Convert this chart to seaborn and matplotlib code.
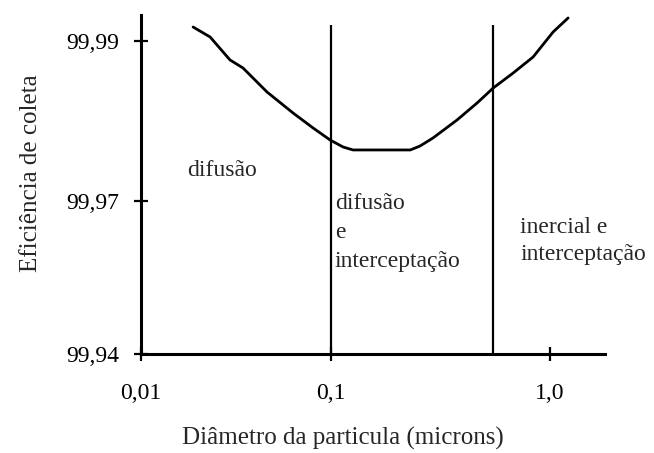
import numpy as np
import pandas as pd
import matplotlib
matplotlib.use('Agg')
import matplotlib.pyplot as plt
import seaborn as sns

# Curva de eficiência
diametro = [0.0188, 0.0231, 0.0294, 0.0344, 0.0460, 0.0631, 0.0804, 0.0988, 0.1135, 0.126,
            0.230, 0.255, 0.292, 0.376, 0.464, 0.550, 0.678, 0.836, 1.032, 1.208]
eficiencia = [99.99175, 99.9905, 99.98763, 99.98663, 99.98363, 99.9810, 99.97913, 99.97763,
              99.97675, 99.97638, 99.97638, 99.97688, 99.97788, 99.98013, 99.98225, 99.98413,
              99.9860, 99.9880, 99.99113, 99.99288]

# Limites entre regiões
limites = [0.1, 0.55]

x_ticks = [0.01, 0.1, 1.0]
x_labels = ['0,01', '0,1', '1,0']
y_ticks = [99.94, 99.97, 99.99]
y_labels = ['99,94', '99,97', '99,99']

regioes = ['difusão', 'difusão\ne\ninterceptação', 'inercial e\ninterceptação']
regioes_x = [0.01746, 0.1042, 0.73]
regioes_y = [99.97513, 99.9710, 99.96686]
regioes_esp = [1.2, 1.5, 1.35]

sns.set_style('white')
plt.rcParams['font.family'] = ['Liberation Serif', 'DejaVu Serif']


def _pw(v, xs, ys):
    v = np.asarray(v, dtype=float)
    out = np.interp(v, xs, ys)
    lo_slope = (ys[1] - ys[0]) / (xs[1] - xs[0])
    hi_slope = (ys[-1] - ys[-2]) / (xs[-1] - xs[-2])
    out = np.where(v < xs[0], ys[0] + (v - xs[0]) * lo_slope, out)
    out = np.where(v > xs[-1], ys[-1] + (v - xs[-1]) * hi_slope, out)
    return out


# escalas esquemáticas (eixos do original não são uniformes)
def x_fwd(x):
    return _pw(np.log10(np.clip(x, 1e-12, None)), [-2, -1, 0], [0, 190, 409])


def x_inv(p):
    return 10 ** _pw(p, [0, 190, 409], [-2, -1, 0])


def y_fwd(y):
    return _pw(y, [99.94, 99.97, 99.99], [0, 153, 313])


def y_inv(p):
    return _pw(p, [0, 153, 313], [99.94, 99.97, 99.99])


df = pd.DataFrame({'d': diametro, 'e': eficiencia})

fig = plt.figure(figsize=(6.54, 4.53), dpi=100)
ax = fig.add_axes([141 / 654, 99 / 453, 464 / 654, 339 / 453])

ax.set_xscale('function', functions=(x_fwd, x_inv))
ax.set_yscale('function', functions=(y_fwd, y_inv))

sns.lineplot(data=df, x='d', y='e', ax=ax, color='black', linewidth=2.0)

ax.vlines(limites, 99.94, 99.992, color='black', linewidth=1.6)

for txt, tx, ty, ls in zip(regioes, regioes_x, regioes_y, regioes_esp):
    ax.text(tx, ty, txt, fontsize=17, ha='left', va='top', linespacing=ls)

ax.set_xlim(0.01, 1.78)
ax.set_ylim(99.94, 99.99325)

ax.set_xticks(x_ticks)
ax.set_xticklabels(x_labels, fontsize=17)
ax.set_yticks(y_ticks)
ax.set_yticklabels(y_labels, fontsize=17)
ax.minorticks_off()
ax.tick_params(axis='both', bottom=True, left=True, direction='inout',
               length=10, width=1.6, colors='black')
ax.tick_params(axis='x', pad=16)
ax.tick_params(axis='y', pad=11)

for s in ['top', 'right']:
    ax.spines[s].set_visible(False)
for s in ['left', 'bottom']:
    ax.spines[s].set_linewidth(2.2)
    ax.spines[s].set_color('black')

ax.set_xlabel('Diâmetro da particula (microns)', fontsize=18)
ax.set_ylabel('Eficiência de coleta', fontsize=18)
ax.xaxis.set_label_coords(0.435, -0.215)
ax.yaxis.set_label_coords(-0.213, 0.534)

fig.savefig('out.png', dpi=100)
